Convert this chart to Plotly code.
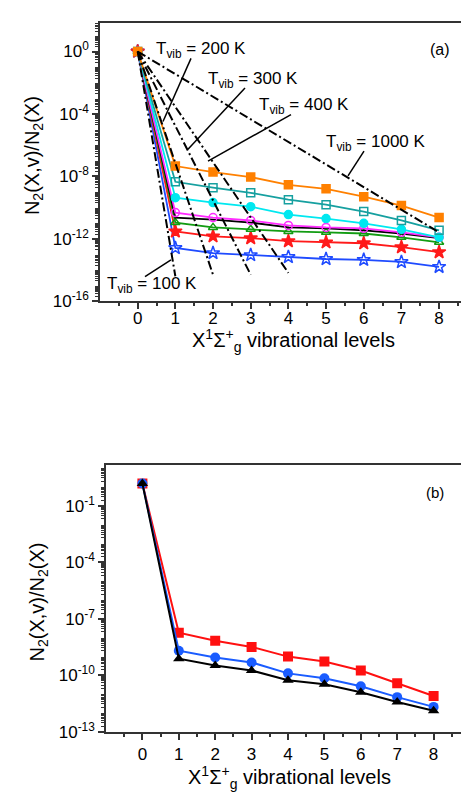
import plotly.graph_objects as go

W, H = 469, 796
FONT = "Liberation Sans, Arial, Helvetica, sans-serif"

# ---------------- data ----------------
levels = [0, 1, 2, 3, 4, 5, 6, 7, 8]

# panel (a): relative populations of X(v)
a_orange = [1, 4.6e-8, 1.9e-8, 9.1e-9, 2.9e-9, 1.6e-9, 5.0e-10, 1.35e-10, 2.3e-11]
a_teal = [1, 4.5e-9, 1.9e-9, 8.9e-10, 3.2e-10, 1.55e-10, 5.6e-11, 1.5e-11, 3.5e-12]
a_cyan = [1, 4.3e-10, 2.1e-10, 1.15e-10, 3.6e-11, 2.0e-11, 9.8e-12, 4.1e-12, 1.26e-12]
a_magenta = [1, 4.8e-11, 2.3e-11, 1.5e-11, 7.2e-12, 5.4e-12, 4.7e-12, 2.6e-12, 1.26e-12]
a_black = [1, 2.3e-11, 1.7e-11, 1.1e-11, 5.4e-12, 4.7e-12, 3.5e-12, 2.2e-12, 1.1e-12]
a_green = [1, 1.1e-11, 5.4e-12, 4.1e-12, 3.0e-12, 2.6e-12, 2.2e-12, 1.26e-12, 6.0e-13]
a_red = [1, 3.0e-12, 1.45e-12, 1.1e-12, 7.1e-13, 6.0e-13, 5.2e-13, 2.95e-13, 1.4e-13]
a_blue = [1, 2.6e-13, 1.23e-13, 9.1e-14, 6.9e-14, 5.1e-14, 4.5e-14, 3.3e-14, 1.6e-14]

# Boltzmann distributions (dash-dot lines)
boltz_T = ["100", "200", "300", "400", "1000"]
boltz_v = [[0, 1], [0, 2], [0, 3], [0, 4], [0, 8]]
boltz_n = [[1, 4.0e-15], [1, 5.0e-15], [1, 5.0e-15], [1, 6.6e-15], [1, 2.6e-12]]

# panel (b)
b_red = [1.5, 1.8e-8, 6.8e-9, 3.2e-9, 9.8e-10, 5.4e-10, 1.8e-10, 3.8e-11, 7.9e-12]
b_blue = [1.5, 2.0e-9, 8.7e-10, 4.8e-10, 1.26e-10, 6.9e-11, 2.6e-11, 6.9e-12, 2.1e-12]
b_black = [1.5, 7.6e-10, 3.3e-10, 1.8e-10, 5.4e-11, 3.3e-11, 1.26e-11, 3.8e-12, 1.3e-12]

x_ticklabels = ["0", "1", "2", "3", "4", "5", "6", "7", "8"]
a_ydecades = list(range(-16, 2))
a_ylabeled = [0, -4, -8, -12, -16]
b_ydecades = list(range(-13, 2))
b_ylabeled = [-1, -4, -7, -10, -13]


def px(x):
    return x / W


def py(y):
    return 1 - y / H


fig = go.Figure()

# ---------- panel (a) traces ----------
a_styles = [
    (a_blue, "#1f4bff", "star-open", 10),
    (a_red, "#ff1a1a", "star", 10),
    (a_green, "#129c12", "triangle-up-open", 8),
    (a_black, "#000000", None, 0),
    (a_magenta, "#ff2bff", "circle-open", 8),
    (a_cyan, "#00e8f0", "circle", 8),
    (a_teal, "#16a0a0", "square-open", 8),
    (a_orange, "#ff8000", "square", 8),
]
for vals, col, sym, sz in a_styles:
    fig.add_trace(go.Scatter(
        x=levels, y=vals, xaxis="x", yaxis="y",
        mode="lines+markers" if sym else "lines",
        line=dict(color=col, width=1.8),
        marker=dict(symbol=sym or "circle", size=sz, color=col,
                    line=dict(color=col, width=1.5)),
        showlegend=False, hoverinfo="skip"))

for v, n in zip(boltz_v, boltz_n):
    fig.add_trace(go.Scatter(
        x=v, y=n, xaxis="x", yaxis="y", mode="lines",
        line=dict(color="black", width=2, dash="9px,3px,2px,3px"),
        showlegend=False, hoverinfo="skip"))

# ---------- panel (b) traces ----------
b_styles = [
    (b_red, "#ff1010", "square"),
    (b_blue, "#1a5cff", "circle"),
    (b_black, "#000000", "triangle-up"),
]
for vals, col, sym in b_styles:
    fig.add_trace(go.Scatter(
        x=levels, y=vals, xaxis="x3", yaxis="y3", mode="lines+markers",
        line=dict(color=col, width=2),
        marker=dict(symbol=sym, size=10, color=col),
        showlegend=False, hoverinfo="skip"))

AXC = "#333333"
tickfont = dict(family=FONT, size=17, color="black")

x_minor = [i + 0.5 for i in range(-1, 9)]


def xaxis_main(dom, anchor, rng, standoff=0):
    return dict(domain=dom, anchor=anchor, range=rng, tickmode="array",
                tickvals=levels, ticktext=x_ticklabels, ticks="outside",
                ticklen=6, tickwidth=1.5, tickcolor=AXC, showline=True,
                linecolor=AXC, linewidth=1.5, mirror=True, showgrid=False,
                zeroline=False, tickfont=tickfont, ticklabelstandoff=standoff,
                minor=dict(tickmode="array", tickvals=x_minor, ticks="outside",
                           ticklen=3, tickwidth=1.5, tickcolor=AXC))


def xaxis_top(over, anchor, rng):
    return dict(overlaying=over, anchor=anchor, side="top", range=rng,
                tickmode="array", tickvals=levels, ticks="inside", ticklen=6,
                tickwidth=1.5, tickcolor=AXC, showticklabels=False,
                showgrid=False, zeroline=False, showline=False,
                minor=dict(tickmode="array", tickvals=x_minor, ticks="inside",
                           ticklen=3, tickwidth=1.5, tickcolor=AXC))


def sub_decades(decades):
    return [m * 10.0 ** d for d in decades for m in range(2, 10)]


def yaxis_main(dom, anchor, rng, decades, labeled):
    vals = [10.0 ** d for d in labeled]
    text = ["10<sup>%d</sup>" % d for d in labeled]
    return dict(domain=dom, anchor=anchor, type="log", range=rng,
                tickmode="array", tickvals=vals, ticktext=text,
                ticks="outside", ticklen=6, tickwidth=1.5, tickcolor=AXC,
                showline=True, linecolor=AXC, linewidth=1.5, mirror=True,
                showgrid=False, zeroline=False, tickfont=tickfont,
                minor=dict(tickmode="array", tickvals=sub_decades(decades),
                           ticks="outside", ticklen=3, tickwidth=1.2,
                           tickcolor=AXC))


def yaxis_left_extra(over, anchor, rng, decades, labeled):
    vals = [10.0 ** d for d in decades if d not in labeled]
    return dict(overlaying=over, anchor=anchor, side="left", type="log",
                range=rng, tickmode="array", tickvals=vals,
                ticks="outside", ticklen=6, tickwidth=1.5, tickcolor=AXC,
                showticklabels=False, showgrid=False, zeroline=False,
                showline=False)


def yaxis_right(over, anchor, rng, decades):
    vals = [10.0 ** d for d in decades]
    return dict(overlaying=over, anchor=anchor, side="right", type="log",
                range=rng, tickmode="array", tickvals=vals,
                ticks="inside", ticklen=6, tickwidth=1.5, tickcolor=AXC,
                showticklabels=False, showgrid=False, zeroline=False,
                showline=False,
                minor=dict(tickmode="array", tickvals=sub_decades(decades),
                           ticks="inside", ticklen=3, tickwidth=1.2,
                           tickcolor=AXC))


xa_dom = [px(92), px(465)]
ya_dom = [py(297), py(15)]
xb_dom = [px(98), px(462)]
yb_dom = [py(733), py(463)]
xa_rng = [-1, 8.9]
xb_rng = [-1, 9]
ya_rng = [-16, 1.84]
yb_rng = [-13, 1.15]

fig.update_layout(
    width=W, height=H, margin=dict(l=0, r=0, t=0, b=0),
    paper_bgcolor="white", plot_bgcolor="white", showlegend=False,
    font=dict(family=FONT, color="black"),
    xaxis=xaxis_main(xa_dom, "y", xa_rng, standoff=-5),
    xaxis2=xaxis_top("x", "y", xa_rng),
    yaxis=yaxis_main(ya_dom, "x", ya_rng, a_ydecades, a_ylabeled),
    yaxis2=yaxis_right("y", "x", ya_rng, a_ydecades),
    yaxis5=yaxis_left_extra("y", "x", ya_rng, a_ydecades, a_ylabeled),
    xaxis3=xaxis_main(xb_dom, "y3", xb_rng),
    xaxis4=xaxis_top("x3", "y3", xb_rng),
    yaxis3=yaxis_main(yb_dom, "x3", yb_rng, b_ydecades, b_ylabeled),
    yaxis4=yaxis_right("y3", "x3", yb_rng, b_ydecades),
    yaxis6=yaxis_left_extra("y3", "x3", yb_rng, b_ydecades, b_ylabeled),
)

ann = []
shapes = []


def text(x, y, s, size=17, xanchor="left", angle=0):
    ann.append(dict(x=px(x), y=py(y), xref="paper", yref="paper", text=s,
                    showarrow=False, xanchor=xanchor, yanchor="middle",
                    textangle=angle, font=dict(family=FONT, size=size,
                                               color="black")))


def pointer(x0, y0, x1, y1):
    shapes.append(dict(type="line", xref="paper", yref="paper",
                       x0=px(x0), y0=py(y0), x1=px(x1), y1=py(y1),
                       line=dict(color="black", width=1.5)))


tv = "T<sub>vib</sub> = %s K"
text(146, 43, tv % boltz_T[1])
text(198, 73, tv % boltz_T[2])
text(249, 99, tv % boltz_T[3])
text(316, 137, tv % boltz_T[4])
text(97, 281, tv % boltz_T[0])
pointer(183, 51, 155, 115)
pointer(237, 81, 180, 143)
pointer(283, 108, 200, 155)
pointer(356, 145, 340, 170)
pointer(137, 272, 163, 255)

text(432, 42, "(a)", size=16, xanchor="center")
text(427, 491, "(b)", size=15, xanchor="center")

ytitle = "N<sub>2</sub>(X,v)/N<sub>2</sub>(X)"
xtitle = "X<sup>1</sup>Σ<sup>+</sup><sub>g</sub> vibrational levels"
text(25, 150, ytitle, size=20, xanchor="center", angle=-90)
text(30, 602, ytitle, size=20, xanchor="center", angle=-90)
text(285, 337, xtitle, size=20, xanchor="center")
text(281, 779, xtitle, size=20, xanchor="center")

fig.update_layout(annotations=ann, shapes=shapes)

fig.write_html("out.html")
